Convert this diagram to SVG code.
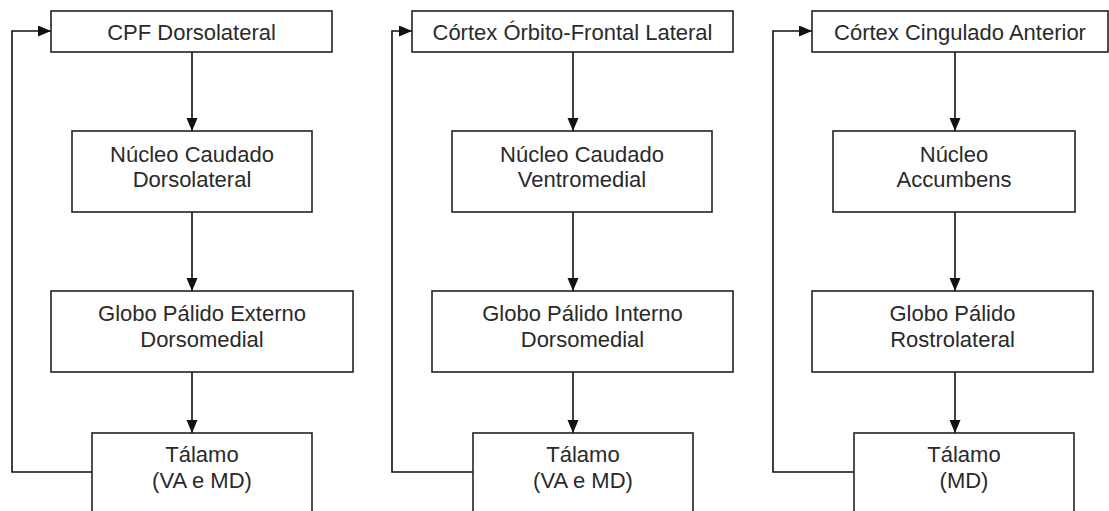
<svg xmlns="http://www.w3.org/2000/svg" width="1109" height="511" viewBox="0 0 1109 511">
<style>
.box{fill:#fff;stroke:#222;stroke-width:1.6}
.lbl{font-family:"Liberation Sans",Arial,sans-serif;font-size:22px;fill:#2a2a2a;text-anchor:middle}
.con{fill:none;stroke:#111;stroke-width:1.6}
</style>
<defs>
<marker id="ah" markerUnits="userSpaceOnUse" markerWidth="14" markerHeight="12" refX="13" refY="5.5" orient="auto">
<path d="M0,0 L13,5.5 L0,11 Z" fill="#111"/>
</marker>
</defs>
<rect width="1109" height="511" fill="#fff"/>
<g id="connectors">
<line class="con" x1="192" y1="52" x2="192" y2="131" marker-end="url(#ah)"/>
<line class="con" x1="192" y1="212" x2="192" y2="291" marker-end="url(#ah)"/>
<line class="con" x1="192" y1="372" x2="192" y2="433" marker-end="url(#ah)"/>
<polyline class="con" points="92,472 12,472 12,31 51,31" marker-end="url(#ah)"/>
<line class="con" x1="573" y1="52" x2="573" y2="131" marker-end="url(#ah)"/>
<line class="con" x1="573" y1="212" x2="573" y2="291" marker-end="url(#ah)"/>
<line class="con" x1="573" y1="372" x2="573" y2="433" marker-end="url(#ah)"/>
<polyline class="con" points="473,472 392,472 392,31 412,31" marker-end="url(#ah)"/>
<line class="con" x1="955" y1="52" x2="955" y2="131" marker-end="url(#ah)"/>
<line class="con" x1="955" y1="212" x2="955" y2="291" marker-end="url(#ah)"/>
<line class="con" x1="955" y1="372" x2="955" y2="433" marker-end="url(#ah)"/>
<polyline class="con" points="854,472 773,472 773,31 812,31" marker-end="url(#ah)"/>
</g>
<g id="cpf-dorsolateral"><rect class="box" x="51" y="11" width="281" height="41"/><text class="lbl" x="191.5" y="40">CPF Dorsolateral</text></g>
<g id="nucleo-caudado-dorsolateral"><rect class="box" x="72" y="131" width="240" height="81"/><text class="lbl" x="192" y="162">Núcleo Caudado</text><text class="lbl" x="192" y="187">Dorsolateral</text></g>
<g id="globo-palido-externo"><rect class="box" x="51" y="291" width="302" height="81"/><text class="lbl" x="202" y="321">Globo Pálido Externo</text><text class="lbl" x="202" y="347">Dorsomedial</text></g>
<g id="talamo-1"><rect class="box" x="92" y="433" width="220" height="90"/><text class="lbl" x="202" y="462">Tálamo</text><text class="lbl" x="202" y="488">(VA e MD)</text></g>
<g id="cortex-orbito-frontal"><rect class="box" x="412" y="11" width="321" height="41"/><text class="lbl" x="572.5" y="40">Córtex Órbito-Frontal Lateral</text></g>
<g id="nucleo-caudado-ventromedial"><rect class="box" x="452" y="131" width="260" height="81"/><text class="lbl" x="582" y="162">Núcleo Caudado</text><text class="lbl" x="582" y="187">Ventromedial</text></g>
<g id="globo-palido-interno"><rect class="box" x="432" y="291" width="301" height="81"/><text class="lbl" x="582.5" y="321">Globo Pálido Interno</text><text class="lbl" x="582.5" y="347">Dorsomedial</text></g>
<g id="talamo-2"><rect class="box" x="473" y="433" width="220" height="90"/><text class="lbl" x="583" y="462">Tálamo</text><text class="lbl" x="583" y="488">(VA e MD)</text></g>
<g id="cortex-cingulado-anterior"><rect class="box" x="812" y="11" width="296" height="41"/><text class="lbl" x="960" y="40">Córtex Cingulado Anterior</text></g>
<g id="nucleo-accumbens"><rect class="box" x="833" y="131" width="242" height="81"/><text class="lbl" x="954" y="162">Núcleo</text><text class="lbl" x="954" y="187">Accumbens</text></g>
<g id="globo-palido-rostrolateral"><rect class="box" x="812" y="291" width="281" height="81"/><text class="lbl" x="952.5" y="321">Globo Pálido</text><text class="lbl" x="952.5" y="347">Rostrolateral</text></g>
<g id="talamo-3"><rect class="box" x="854" y="433" width="220" height="90"/><text class="lbl" x="964" y="462">Tálamo</text><text class="lbl" x="964" y="488">(MD)</text></g>
</svg>
